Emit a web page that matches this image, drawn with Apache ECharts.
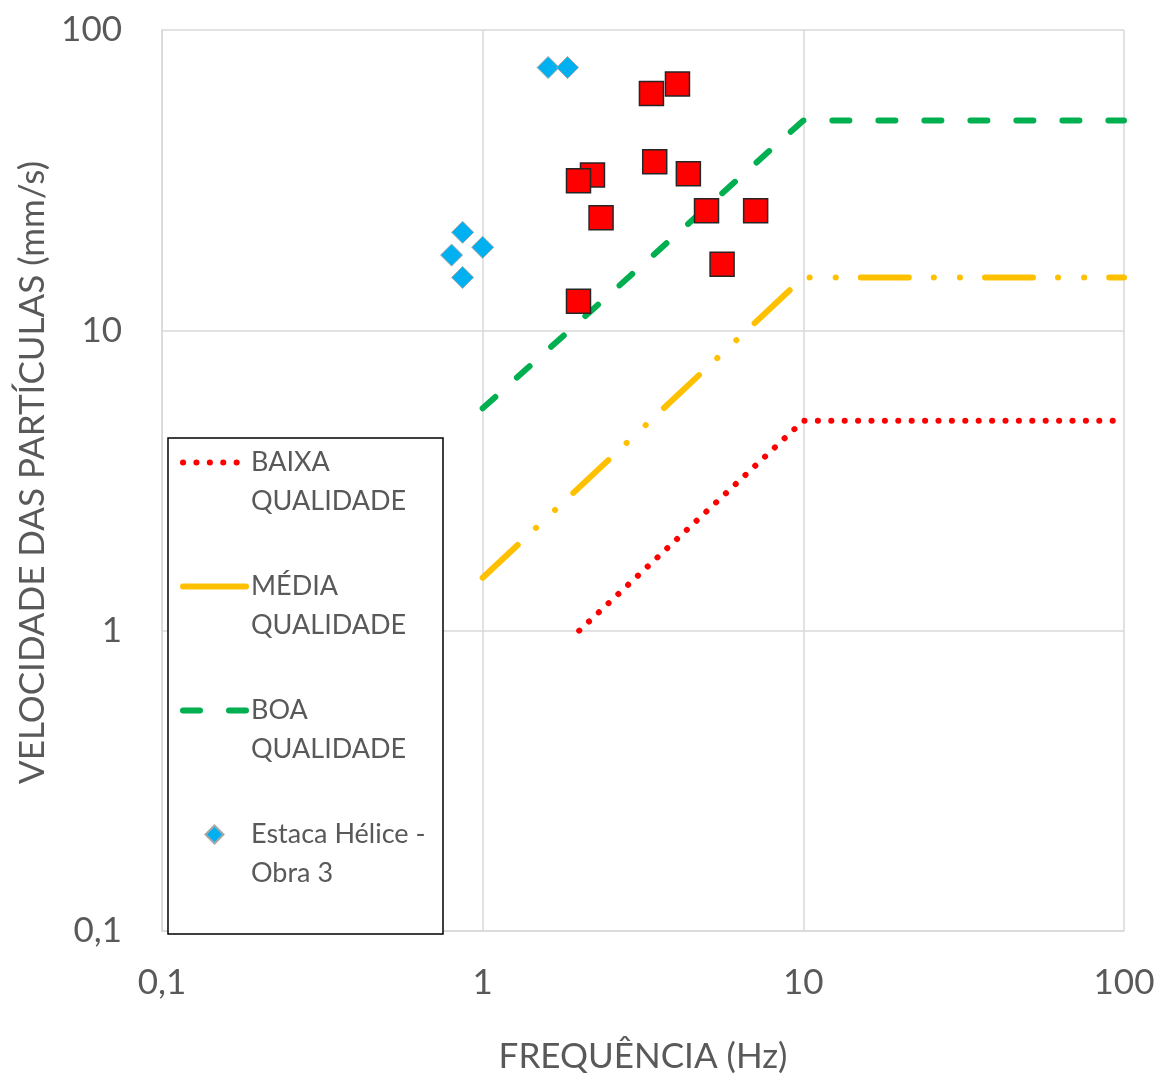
<!DOCTYPE html>
<html>
<head>
<meta charset="utf-8">
<script src="https://cdn.jsdelivr.net/npm/echarts@6/dist/echarts.min.js"></script>
<style>
  html, body { margin: 0; padding: 0; background: #fff; }
  #chart { width: 1164px; height: 1083px; }
</style>
</head>
<body>
<div id="chart"></div>
<script>
// Limit curves (frequency in Hz, particle velocity in mm/s)
const freqBaixa = [2, 10, 100];
const velBaixa = [1, 5, 5];
const freqMedia = [1, 10, 100];
const velMedia = [1.5, 15, 15];
const freqBoa = [1, 10, 100];
const velBoa = [5.5, 50, 50];

// Measured vibrations - Estaca Hélice, Obra 3
const freqObra3 = [1.6, 1.84, 0.866, 0.8, 1.0, 0.866];
const velObra3 = [75, 75, 21.2, 17.8, 18.9, 15];

// Other measured vibrations
const freqOutras = [3.36, 4.05, 2.2, 1.99, 3.44, 4.38, 2.34, 4.99, 7.1, 5.58, 1.99];
const velOutras = [61.4, 66.1, 32.9, 31.5, 36.4, 33.2, 23.7, 25, 25, 16.6, 12.5];

// Axis tick labels (decimal comma)
const xTickLabels = { 0.1: '0,1', 1: '1', 10: '10', 100: '100' };
const yTickLabels = { 0.1: '0,1', 1: '1', 10: '10', 100: '100' };

const pairs = (xs, ys) => xs.map((x, i) => [x, ys[i]]);
const FONT = 'Lato';
const TEXT = '#595959';
const GRID = '#d9d9d9';

// Line styles shared by the curves and their legend keys
const styleBaixa = { color: '#ff0000', width: 6, type: [0.1, 13.3], cap: 'round' };
const styleMedia = { color: '#ffc000', width: 6, type: [48, 25, 0.1, 26, 0.1, 25], cap: 'round' };
const styleBoa = { color: '#00b050', width: 6, type: [17, 29], cap: 'round' };
const hiddenMarker = { color: 'rgba(0,0,0,0)', borderWidth: 0, opacity: 0 };
const diamondPath = 'path://M0,-1L1,0L0,1L-1,0Z';

function tickFmt(map) {
  return function (v) {
    const key = Number(v.toPrecision(6));
    return map[key] !== undefined ? map[key] : String(key).replace('.', ',');
  };
}

const chart = echarts.init(document.getElementById('chart'), null, { renderer: 'canvas' });

chart.setOption({
  backgroundColor: '#fff',
  animation: false,
  grid: { left: 162, right: 40, top: 30, bottom: 152, containLabel: false },
  xAxis: {
    type: 'log', logBase: 10, min: 0.1, max: 100,
    name: 'FREQUÊNCIA (Hz)', nameLocation: 'middle', nameGap: 108,
    nameTextStyle: { fontFamily: FONT, fontSize: 35, color: TEXT },
    axisLine: { show: true, lineStyle: { color: GRID, width: 1.5 } },
    axisTick: { show: false },
    minorTick: { show: false },
    axisLabel: { fontFamily: FONT, fontSize: 35, color: TEXT, margin: 34, formatter: tickFmt(xTickLabels) },
    splitLine: { show: true, lineStyle: { color: GRID, width: 1.5 } }
  },
  yAxis: {
    type: 'log', logBase: 10, min: 0.1, max: 100,
    name: 'VELOCIDADE DAS PARTÍCULAS (mm/s)', nameLocation: 'middle', nameGap: 101,
    nameTextStyle: { fontFamily: FONT, fontSize: 35, color: TEXT, padding: [0, 0, 0, 16] },
    axisLine: { show: true, lineStyle: { color: GRID, width: 1.5 } },
    axisTick: { show: false },
    axisLabel: { fontFamily: FONT, fontSize: 35, color: TEXT, margin: 40, formatter: tickFmt(yTickLabels) },
    splitLine: { show: true, lineStyle: { color: GRID, width: 1.5 } }
  },
  graphic: [{
    type: 'rect', z: 90,
    shape: { x: 168, y: 438, width: 275, height: 496 },
    style: { fill: '#fff', stroke: '#000', lineWidth: 1.5 }
  }],
  legend: {
    orient: 'vertical', left: 180, top: 404, padding: 0, z: 100,
    itemWidth: 63, itemHeight: 18, itemGap: 7, symbolKeepAspect: true,
    // leading blank line keeps the key level with the first text line
    formatter: (name) => '\n' + name,
    textStyle: { fontFamily: FONT, fontSize: 27, color: TEXT, lineHeight: 39 },
    data: [
      { name: 'BAIXA\nQUALIDADE', lineStyle: styleBaixa, itemStyle: hiddenMarker },
      { name: 'MÉDIA\nQUALIDADE', lineStyle: Object.assign({}, styleMedia, { type: 'solid' }), itemStyle: hiddenMarker },
      { name: 'BOA\nQUALIDADE', lineStyle: styleBoa, itemStyle: hiddenMarker },
      { name: 'Estaca Hélice -\nObra 3', icon: diamondPath }
    ]
  },
  series: [
    {
      name: 'BAIXA\nQUALIDADE', type: 'line', symbol: 'none', z: 2,
      data: pairs(freqBaixa, velBaixa),
      itemStyle: { color: styleBaixa.color },
      lineStyle: styleBaixa
    },
    {
      name: 'MÉDIA\nQUALIDADE', type: 'line', symbol: 'none', z: 2,
      data: pairs(freqMedia, velMedia),
      itemStyle: { color: styleMedia.color },
      lineStyle: styleMedia
    },
    {
      name: 'BOA\nQUALIDADE', type: 'line', symbol: 'none', z: 2,
      data: pairs(freqBoa, velBoa),
      itemStyle: { color: styleBoa.color },
      lineStyle: styleBoa
    },
    {
      name: 'Medições', type: 'scatter', symbol: 'rect', symbolSize: 24, z: 3,
      data: pairs(freqOutras, velOutras),
      itemStyle: { color: '#ff0000', borderColor: '#262626', borderWidth: 1.5, opacity: 1 }
    },
    {
      name: 'Estaca Hélice -\nObra 3', type: 'scatter', symbol: 'diamond', symbolSize: 22, z: 4,
      data: pairs(freqObra3, velObra3),
      itemStyle: { color: '#00b0f0', borderColor: '#a6a6a6', borderWidth: 1, opacity: 1 }
    }
  ]
});
</script>
</body>
</html>
